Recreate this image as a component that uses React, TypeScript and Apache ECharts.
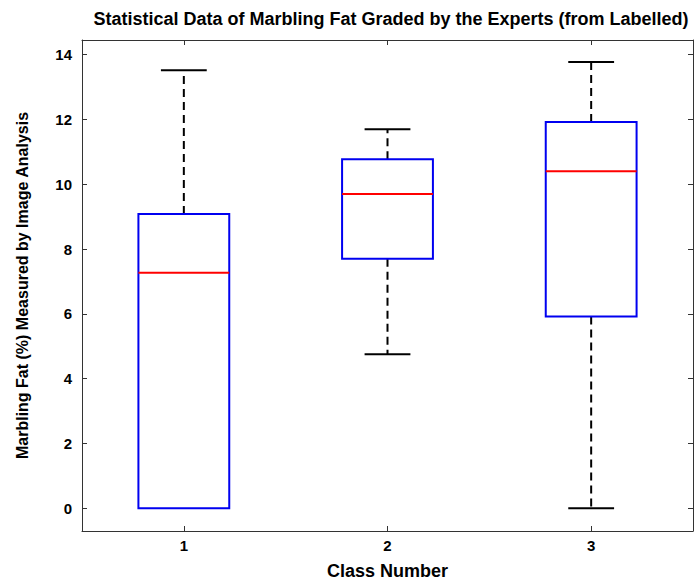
import React, { useEffect, useRef } from 'react';
import * as echarts from 'echarts';

const categories = ['1', '2', '3'];
const lowerWhisker = [0, 4.75, 0];
const q1 = [0, 7.7, 5.92];
const median = [7.27, 9.7, 10.4];
const q3 = [9.08, 10.77, 11.92];
const upperWhisker = [13.52, 11.7, 13.77];

const titleText = 'Statistical Data of Marbling Fat Graded by the Experts (from Labelled)';
const xName = 'Class Number';
const yName = 'Marbling Fat (%) Measured by Image Analysis';

const FONT = '"Liberation Sans", Arial, sans-serif';

export default function App() {
  const ref = useRef<HTMLDivElement>(null);
  useEffect(() => {
    if (!ref.current) return;
    const chart = echarts.init(ref.current, undefined, { renderer: 'svg' });
    const data = categories.map((c, i) => [i, lowerWhisker[i], q1[i], median[i], q3[i], upperWhisker[i]]);
    const axisLine = { show: true, onZero: false, lineStyle: { color: '#333', width: 1 } };
    const tick = { show: true, inside: true, length: 5, lineStyle: { color: '#333' } };
    chart.setOption({
      animation: false,
      backgroundColor: '#fff',
      title: {
        text: titleText,
        left: 386,
        top: 5,
        textAlign: 'center',
        textStyle: { fontFamily: FONT, fontSize: 18, fontWeight: 'bold', color: '#000' },
      },
      grid: { left: 82, right: 2, top: 40, bottom: 52, show: false },
      xAxis: [
        {
          type: 'category',
          data: categories,
          boundaryGap: true,
          axisLine,
          axisTick: { ...tick, alignWithLabel: true },
          axisLabel: { fontFamily: FONT, fontSize: 15, fontWeight: 'bold', color: '#000', margin: 7 },
          splitLine: { show: false },
          name: xName,
          nameLocation: 'middle',
          nameGap: 31,
          nameTextStyle: { fontFamily: FONT, fontSize: 18, fontWeight: 'bold', color: '#000' },
        },
        {
          type: 'category',
          data: categories,
          position: 'top',
          boundaryGap: true,
          axisLine,
          axisTick: { ...tick, alignWithLabel: true },
          axisLabel: { show: false },
          splitLine: { show: false },
        },
      ],
      yAxis: [
        {
          type: 'value',
          min: -0.7,
          max: 14.45,
          minInterval: 2,
          maxInterval: 2,
          axisLine,
          axisTick: tick,
          axisLabel: {
            fontFamily: FONT, fontSize: 15, fontWeight: 'bold', color: '#000', margin: 10,
            showMinLabel: false, showMaxLabel: false,
            formatter: (v: number) => (Math.abs(v - Math.round(v)) < 1e-6 ? String(Math.round(v)) : ''),
          },
          splitLine: { show: false },
          name: yName,
          nameLocation: 'middle',
          nameGap: 52,
          nameTextStyle: { fontFamily: FONT, fontSize: 16, fontWeight: 'bold', color: '#000' },
        },
        {
          type: 'value',
          position: 'right',
          min: -0.7,
          max: 14.45,
          minInterval: 2,
          maxInterval: 2,
          axisLine,
          axisTick: tick,
          axisLabel: { show: false },
          splitLine: { show: false },
        },
      ],
      series: [
        {
          type: 'custom',
          xAxisIndex: 0,
          yAxisIndex: 0,
          data,
          renderItem: (params: any, api: any) => {
            const idx = api.value(0);
            const band = api.size([1, 0])[0];
            const boxHalf = band * 0.223;
            const capHalf = band * 0.1125;
            const pLo = api.coord([idx, api.value(1)]);
            const pQ1 = api.coord([idx, api.value(2)]);
            const pMed = api.coord([idx, api.value(3)]);
            const pQ3 = api.coord([idx, api.value(4)]);
            const pHi = api.coord([idx, api.value(5)]);
            const cx = pMed[0];
            const dashStyle = { stroke: '#000', lineWidth: 2, lineDash: [8, 5] };
            const solidBlack = { stroke: '#000', lineWidth: 2 };
            const children: any[] = [];
            if (Math.abs(pQ3[1] - pHi[1]) > 0.5) {
              children.push({ type: 'line', shape: { x1: cx, y1: pQ3[1], x2: cx, y2: pHi[1] }, style: dashStyle });
              children.push({ type: 'line', shape: { x1: cx - capHalf, y1: pHi[1], x2: cx + capHalf, y2: pHi[1] }, style: solidBlack });
            }
            if (Math.abs(pQ1[1] - pLo[1]) > 0.5) {
              children.push({ type: 'line', shape: { x1: cx, y1: pQ1[1], x2: cx, y2: pLo[1] }, style: dashStyle });
              children.push({ type: 'line', shape: { x1: cx - capHalf, y1: pLo[1], x2: cx + capHalf, y2: pLo[1] }, style: solidBlack });
            }
            children.push({
              type: 'rect',
              shape: { x: cx - boxHalf, y: pQ3[1], width: boxHalf * 2, height: pQ1[1] - pQ3[1] },
              style: { fill: 'none', stroke: '#0000f0', lineWidth: 2 },
            });
            children.push({
              type: 'line',
              shape: { x1: cx - boxHalf, y1: pMed[1], x2: cx + boxHalf, y2: pMed[1] },
              style: { stroke: '#ff0000', lineWidth: 2 },
            });
            return { type: 'group', children };
          },
        },
      ],
    });
    return () => chart.dispose();
  }, []);
  return <div ref={ref} style={{ position: 'fixed', left: 0, top: 0, width: 695, height: 585 }} />;
}
